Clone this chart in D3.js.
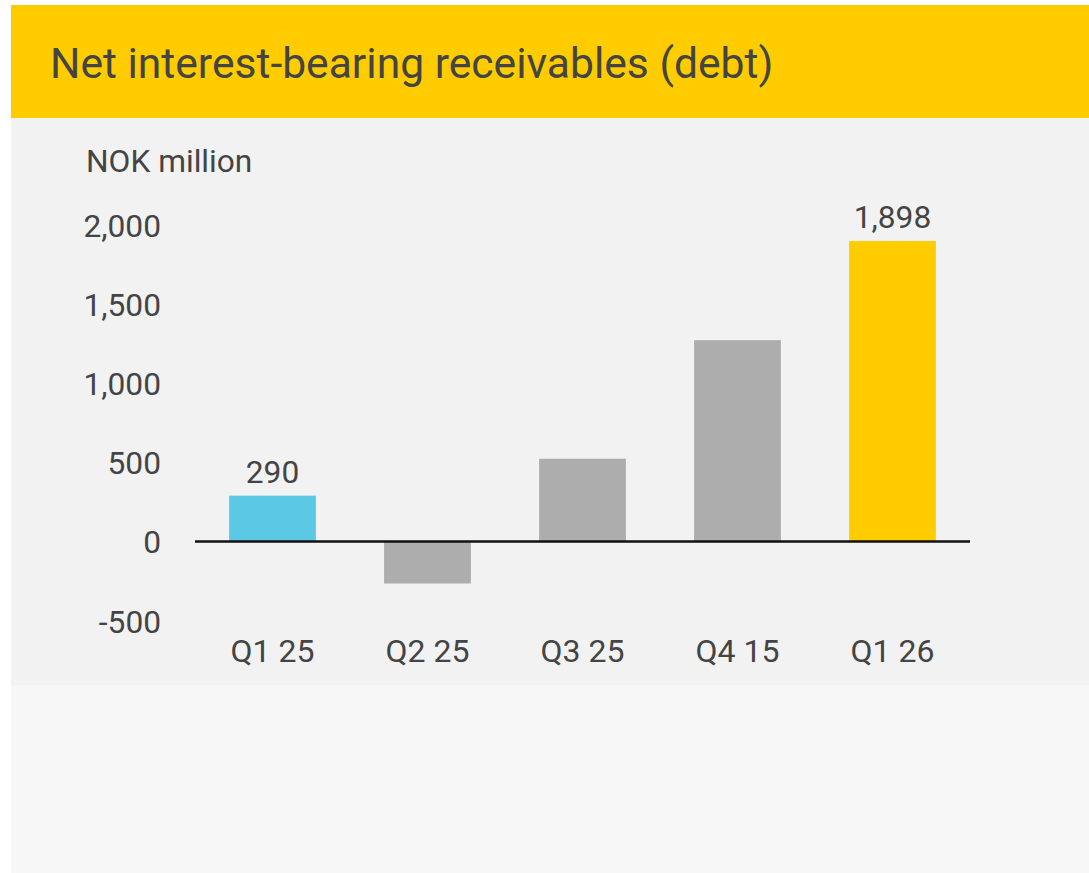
<!DOCTYPE html>
<html>
<head>
<meta charset="utf-8">
<script src="https://cdn.jsdelivr.net/npm/d3@7"></script>
<style>
  html, body { margin: 0; padding: 0; background: #ffffff; }
  svg { display: block; font-family: Roboto, "Noto Sans", sans-serif; }
</style>
</head>
<body>
<svg id="chart" width="1089" height="873"></svg>
<script>
const title = "Net interest-bearing receivables (debt)";
const unitLabel = "NOK million";
const categories = ["Q1 25", "Q2 25", "Q3 25", "Q4 15", "Q1 26"];
const values = [290, -265, 523, 1272, 1898];
const barColors = ["#5BC8E4", "#ADADAD", "#ADADAD", "#ADADAD", "#FFCC00"];
const valueLabels = ["290", null, null, null, "1,898"];
const yTicks = [-500, 0, 500, 1000, 1500, 2000];
const yTickLabels = ["-500", "0", "500", "1,000", "1,500", "2,000"];

const svg = d3.select("#chart");
const textColor = "#444444";
const fs = 31.7;

// backgrounds
svg.append("rect").attr("x", 11).attr("y", 118).attr("width", 1078).attr("height", 755).attr("fill", "#F7F7F7");
svg.append("rect").attr("x", 11).attr("y", 118).attr("width", 1078).attr("height", 567).attr("fill", "#F2F2F2");
svg.append("rect").attr("x", 11).attr("y", 5).attr("width", 1078).attr("height", 113).attr("fill", "#FFCC00");

svg.append("text")
  .attr("x", 50).attr("y", 78)
  .attr("font-size", 42.6)
  .attr("fill", textColor)
  .text(title);

svg.append("text")
  .attr("x", 86).attr("y", 172)
  .attr("font-size", fs)
  .attr("fill", textColor)
  .text(unitLabel);

const x = d3.scaleBand()
  .domain(categories)
  .range([195, 970])
  .paddingInner(0.44)
  .paddingOuter(0.22);

const y = d3.scaleLinear()
  .domain([-500, 2000])
  .range([620.7, 224.9]);

// y tick labels
const yAxis = d3.axisLeft(y)
  .tickValues(yTicks)
  .tickFormat((d, i) => yTickLabels[i])
  .tickSize(0)
  .tickPadding(0);
const gy = svg.append("g").attr("transform", "translate(161,0)").call(yAxis);
gy.select(".domain").remove();
gy.selectAll("text")
  .attr("font-size", fs)
  .attr("font-family", "Roboto, 'Noto Sans', sans-serif")
  .attr("fill", textColor)
  .attr("dy", "0.36em");

// bars
const data = categories.map((c, i) => ({ c, v: values[i], color: barColors[i], label: valueLabels[i] }));
svg.append("g").selectAll("rect").data(data).join("rect")
  .attr("x", d => x(d.c))
  .attr("width", x.bandwidth())
  .attr("y", d => y(Math.max(0, d.v)))
  .attr("height", d => Math.abs(y(d.v) - y(0)))
  .attr("fill", d => d.color);

// zero line
svg.append("line")
  .attr("x1", 195).attr("x2", 970)
  .attr("y1", y(0)).attr("y2", y(0))
  .attr("stroke", "#111111").attr("stroke-width", 2.5);

// value labels
svg.append("g").selectAll("text").data(data.filter(d => d.label)).join("text")
  .attr("x", d => x(d.c) + x.bandwidth() / 2)
  .attr("y", d => y(d.v) - 13)
  .attr("text-anchor", "middle")
  .attr("font-size", fs)
  .attr("fill", textColor)
  .text(d => d.label);

// x axis labels
const xAxis = d3.axisBottom(x).tickSize(0).tickPadding(0);
const gx = svg.append("g").attr("transform", "translate(0,662)").call(xAxis);
gx.select(".domain").remove();
gx.selectAll("text")
  .attr("font-size", 32)
  .attr("font-family", "Roboto, 'Noto Sans', sans-serif")
  .attr("fill", textColor)
  .attr("dy", 0)
  .attr("y", 0);
</script>
</body>
</html>
